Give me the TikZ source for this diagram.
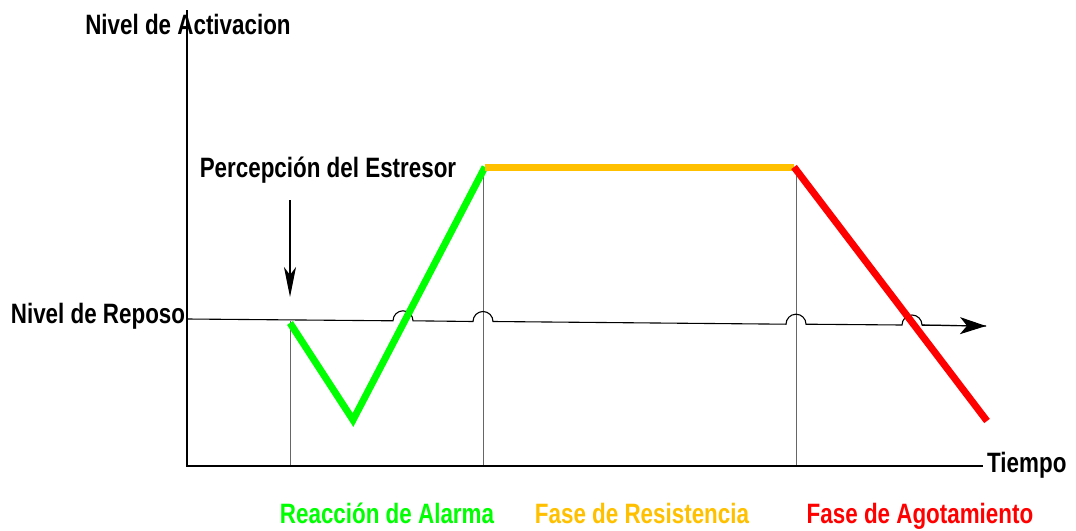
\documentclass[tikz,border=0pt]{standalone}
\usepackage{fontspec}
\setmainfont{Liberation Sans}[FakeStretch=0.8]
\usetikzlibrary{arrows.meta}
\definecolor{cgreen}{RGB}{0,255,0}
\definecolor{corange}{RGB}{255,192,0}
\definecolor{cred}{RGB}{255,0,0}
\tikzset{
  lbl/.style={font=\fontsize{28}{32}\selectfont\bfseries, inner sep=0pt, anchor=base},
  axis/.style={line width=1.3pt, black},
  guide/.style={line width=1pt, black!60},
  phase/.style={line width=7pt, line cap=butt, line join=miter},
}
\begin{document}
\begin{tikzpicture}[x=1pt,y=-1pt]
\useasboundingbox (0,0) rectangle (1076,530);
% coordinates
\coordinate (O) at (187,466);
\coordinate (Ytop) at (187,10);
\coordinate (Xend) at (983,466);
\coordinate (R0) at (187,319);
\coordinate (S) at (290,323);
\coordinate (B) at (353,420);
\coordinate (P) at (485,167);
\coordinate (Q) at (794,167);
\coordinate (E) at (987,421);
\coordinate (Atop) at (290,200);
\coordinate (Abot) at (290,297);
\coordinate (Rend) at (986,326);
% guides
\draw[guide] (290,321) -- (290,466);
\draw[guide] (483,168) -- (483,466);
\draw[guide] (796,168) -- (796,466);
% axes
\draw[axis] (Ytop) -- (O) -- (Xend);
% reposo line with hops
\draw[line width=1.1pt] (R0) -- (393,320.8) arc[start angle=180,end angle=360,radius=10] -- (473,321.5) arc[start angle=180,end angle=360,radius=10] -- (786,324.2) arc[start angle=180,end angle=360,radius=10] -- (902,325) arc[start angle=180,end angle=360,radius=10] -- (Rend);
\draw[line width=1.1pt,-{Stealth[length=26pt,width=17pt,inset=7pt]}] (922,325.2) -- (Rend);
% phases
\draw[phase, cgreen] (S) -- (B) -- (P);
\draw[phase, corange] (P) -- (Q);
\draw[phase, cred] (Q) -- (E);
% stimulus arrow
\draw[line width=1.1pt,-{Stealth[length=30pt,width=12pt,inset=8pt]}] (Atop) -- (Abot);
% labels
\node[lbl] (nact) at (188,34) {Nivel de Activacion};
\node[lbl] (nrep) at (98,323) {Nivel de Reposo};
\node[lbl] (perc) at (328,177) {Percepción del Estresor};
\node[lbl, anchor=base west] (tiem) at (987,472) {Tiempo};
\node[lbl, text=cgreen] (ra) at (387,523) {Reacción de Alarma};
\node[lbl, text=corange] (fr) at (642,523) {Fase de Resistencia};
\node[lbl, text=cred] (fa) at (920,523) {Fase de Agotamiento};
\end{tikzpicture}
\end{document}
